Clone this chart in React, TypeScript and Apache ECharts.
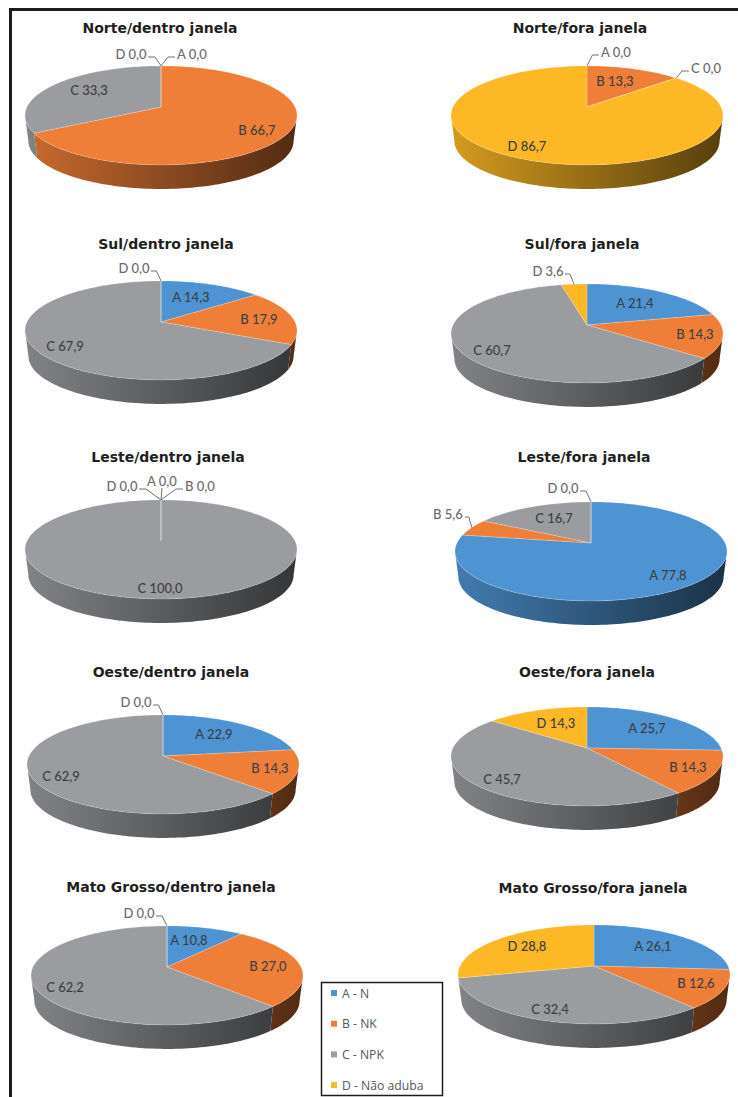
import React, { useEffect, useRef } from "react";
import * as echarts from "echarts";

// Share of each fertilisation class per region and sowing window, in percent.
const pieTitles = [
  "Norte/dentro janela", "Norte/fora janela",
  "Sul/dentro janela", "Sul/fora janela",
  "Leste/dentro janela", "Leste/fora janela",
  "Oeste/dentro janela", "Oeste/fora janela",
  "Mato Grosso/dentro janela", "Mato Grosso/fora janela",
];
const classNames = ["A - N", "B - NK", "C - NPK", "D - Não aduba"];
const classLetters = ["A", "B", "C", "D"];
const classColors = ["#4f94d2", "#ef7f38", "#9a9c9f", "#fdb825"];

const valuesA = [0, 0, 14.3, 21.4, 0, 77.8, 22.9, 25.7, 10.8, 26.1];
const valuesB = [66.7, 13.3, 17.9, 14.3, 0, 5.6, 14.3, 14.3, 27.0, 12.6];
const valuesC = [33.3, 0, 67.9, 60.7, 100, 16.7, 62.9, 45.7, 62.2, 32.4];
const valuesD = [0, 86.7, 0, 3.6, 0, 0, 0, 14.3, 0, 28.8];
const classValues = [valuesA, valuesB, valuesC, valuesD];

// Page layout: hub of each pie, title centre, and data-label centres.
const hubs = [
  [161, 107], [587, 107], [161, 322], [587, 325], [161, 541],
  [591, 543], [163, 756], [587, 748], [167, 967], [594, 966],
];
const titleSpots = [
  [160, 29], [580, 29], [166, 245], [582, 245], [168, 458],
  [584, 458], [171, 673], [587, 673], [171, 888], [593, 889],
];
// x, y and, for labels sitting outside the pie, a flag that adds a leader line.
const labelSpotsA = [
  [192, 54, 1], [616, 52, 1], [191, 297], [635, 303], [162, 481, 1],
  [668, 575], [214, 734], [647, 728], [189, 940], [653, 946],
];
const labelSpotsB = [
  [257, 130], [615, 81], [259, 319], [695, 334], [200, 486, 1],
  [448, 514, 1], [270, 768], [688, 767], [268, 966], [696, 983],
];
const labelSpotsC = [
  [89, 90], [706, 68, 1], [65, 346], [492, 350], [160, 588],
  [554, 518], [61, 776], [502, 779], [65, 987], [550, 1009],
];
const labelSpotsD = [
  [131, 54, 1], [527, 146], [134, 268, 1], [548, 271, 1], [122, 486, 1],
  [563, 488, 1], [136, 702, 1], [556, 723], [139, 913, 1], [527, 946],
];
const labelSpots = [labelSpotsA, labelSpotsB, labelSpotsC, labelSpotsD];

const RX = 136;
const RY = 49.5;
const TILT = 0.17; // perspective strength: pushes the hub above the ellipse centre
const DEPTH = 25.5;
const SIDE_START = (Math.acos(-TILT) * 180) / Math.PI;
const SIDE_END = 360 - SIDE_START;

function shade(hex: string, f: number) {
  const n = parseInt(hex.slice(1), 16);
  const c = (s: number) => Math.round(((n >> s) & 255) * f);
  return `rgb(${c(16)},${c(8)},${c(0)})`;
}

// Perspective projection of a point on the pie's rim; angle runs clockwise from the top.
function rimPoint(hub: number[], deg: number, r = 1) {
  const t = (deg * Math.PI) / 180;
  const u = Math.sin(t) * r;
  const v = -Math.cos(t) * r;
  const w = 1 - TILT * v;
  const sx = RX * Math.sqrt(1 - TILT * TILT);
  const sy = RY * (1 - TILT * TILT);
  return [hub[0] + (sx * u) / w, hub[1] + (sy * v) / w];
}

function lowerRimPoint(hub: number[], deg: number) {
  const p = rimPoint(hub, deg);
  const midY = hub[1] + (RY * TILT);
  return [hub[0] + (p[0] - hub[0]) * 0.975, midY + (p[1] - midY) * 0.97 + DEPTH];
}

function arcDegrees(from: number, to: number) {
  const out: number[] = [];
  for (let d = from; d < to; d += 1.5) out.push(d);
  out.push(to);
  return out;
}

function sliceRange(cls: number, pie: number) {
  const total = classValues.reduce((s, vals) => s + vals[pie], 0);
  let before = 0;
  for (let i = 0; i < cls; i++) before += classValues[i][pie];
  return [(before / total) * 360, ((before + classValues[cls][pie]) / total) * 360];
}

function renderSlice(cls: number) {
  return (params: any, api: any) => {
    const pie = params.dataIndex;
    const value = api.value(0);
    const hub = hubs[pie];
    const [from, to] = sliceRange(cls, pie);
    const color = classColors[cls];
    const children: any[] = [];

    // Front wall, only for the stretch of the slice that faces the viewer.
    const a = Math.max(from, SIDE_START);
    const b = Math.min(to, SIDE_END);
    if (b > a) {
      const degs = arcDegrees(a, b);
      children.push({
        type: "polygon",
        z2: 1,
        shape: {
          points: [
            ...degs.map((d) => rimPoint(hub, d)),
            ...degs.slice().reverse().map((d) => lowerRimPoint(hub, d)),
          ],
        },
        style: {
          fill: {
            type: "linear",
            global: true,
            x: hub[0] - RX,
            y: 0,
            x2: hub[0] + RX,
            y2: 0,
            colorStops: [
              { offset: 0, color: shade(color, 0.84) },
              { offset: 1, color: shade(color, 0.34) },
            ],
          },
        },
      });
    }

    // Top face; a zero-valued slice collapses to the thin seam it leaves on the pie.
    children.push({
      type: "polygon",
      z2: 2,
      shape: { points: [hub, ...arcDegrees(from, to).map((d) => rimPoint(hub, d))] },
      style: { fill: color, stroke: "rgba(255,255,255,0.3)", lineWidth: 0.7 },
    });

    const spot = labelSpots[cls][pie];
    const label = `${classLetters[cls]} ${value.toFixed(1).replace(".", ",")}`;
    if (spot[2]) {
      const end = rimPoint(hub, (from + to) / 2);
      const dx = end[0] - spot[0];
      const line =
        Math.abs(dx) < 4
          ? [[spot[0], spot[1] + 7], end]
          : (() => {
              const side = dx > 0 ? 1 : -1;
              const sx = spot[0] + side * 17;
              const sy = spot[1] + 3;
              return [[sx, sy], [sx + side * Math.min(7, Math.abs(end[0] - sx) * 0.55), sy], end];
            })();
      children.push({
        type: "polyline",
        z2: 9,
        shape: { points: line },
        style: { fill: "none", stroke: "#6f7072", lineWidth: 1 },
      });
    }
    children.push({
      type: "text",
      z2: 10,
      style: {
        text: label,
        x: spot[0],
        y: spot[1],
        align: "center",
        verticalAlign: "middle",
        fill: spot[2] ? "#6a6a6c" : "#3d3f42",
        font: "500 13px Lato",
      },
    });
    return { type: "group", children };
  };
}

export default function App() {
  const ref = useRef<HTMLDivElement>(null);
  useEffect(() => {
    document.body.style.margin = "0";
    const chart = echarts.init(ref.current!, null, { renderer: "svg" });
    chart.setOption({
      animation: false,
      backgroundColor: "#ffffff",
      title: pieTitles.map((text, i) => ({
        text,
        left: titleSpots[i][0],
        top: titleSpots[i][1] - 8,
        textAlign: "center",
        padding: 0,
        textStyle: { fontFamily: "DejaVu Sans", fontWeight: "bold", fontSize: 14, color: "#1f1f22" },
      })),
      legend: {
        orient: "vertical",
        left: 331,
        top: 985,
        padding: 0,
        itemWidth: 6,
        itemHeight: 6,
        itemGap: 14.7,
        icon: "rect",
        selectedMode: false,
        data: classNames,
        textStyle: {
          fontFamily: "Open Sans",
          fontSize: 12.2,
          color: "#55565a",
          padding: [0, 0, 0, 0],
          lineHeight: 16,
        },
      },
      graphic: [
        { type: "rect", silent: true, shape: { x: 9, y: 8, width: 3, height: 1089 }, style: { fill: "#1c1c1c" } },
        { type: "rect", silent: true, shape: { x: 9, y: 8, width: 729, height: 3 }, style: { fill: "#1c1c1c" } },
        {
          type: "rect",
          silent: true,
          z: -1,
          shape: { x: 321.5, y: 982.5, width: 121, height: 113 },
          style: { fill: "#ffffff", stroke: "#1c1c1c", lineWidth: 1.5 },
        },
      ],
      series: classNames.map((name, cls) => ({
        type: "custom",
        name,
        coordinateSystem: "none",
        itemStyle: { color: classColors[cls] },
        data: classValues[cls],
        renderItem: renderSlice(cls),
      })),
    });
    return () => chart.dispose();
  }, []);
  return <div ref={ref} style={{ width: 738, height: 1097 }} />;
}
